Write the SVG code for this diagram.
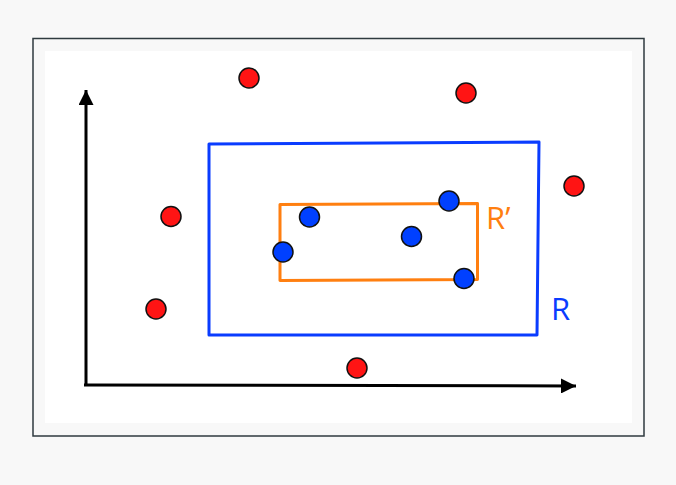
<svg xmlns="http://www.w3.org/2000/svg" width="676" height="485" viewBox="0 0 676 485">
  <defs>
    <marker id="arrow" viewBox="0 0 10 10" refX="10" refY="5" markerWidth="5" markerHeight="5" markerUnits="strokeWidth" orient="auto">
      <path d="M0,0 L10,5 L0,10 Z" fill="#000"/>
    </marker>
    <style>
      .red { fill: #ff1414; stroke: #111; stroke-width: 1.5; }
      .blue { fill: #0040ff; stroke: #111; stroke-width: 1.5; }
      .axis { fill: none; stroke: #000; stroke-width: 3; }
      .lbl { font-family: "Open Sans", "Liberation Sans", sans-serif; font-size: 31px; }
    </style>
  </defs>
  <rect x="0" y="0" width="676" height="485" fill="#f8f8f8"/>
  <rect x="33" y="38.5" width="611" height="397.5" fill="#f8f8f8" stroke="#2f3a3f" stroke-width="1.5"/>
  <rect x="45" y="51" width="587" height="372" fill="#ffffff"/>

  <g id="connectors">
    <path class="axis" d="M86,385 L86,90" marker-end="url(#arrow)"/>
    <path class="axis" d="M84,385 L576,386" marker-end="url(#arrow)"/>
  </g>

  <g id="rect-R">
    <path d="M209,144 L539,142 L537,335 L209,335 Z" fill="none" stroke="#0a3cff" stroke-width="3" stroke-linejoin="round"/>
    <text class="lbl" x="551" y="320" fill="#0a3cff">R</text>
  </g>

  <g id="rect-Rprime">
    <path d="M280,204.5 L477.5,203.5 L477.5,279.5 L280,280.5 Z" fill="none" stroke="#ff7f10" stroke-width="3" stroke-linejoin="round"/>
    <text class="lbl" x="486" y="229" fill="#ff7f10">R’</text>
  </g>

  <g id="red-points">
    <circle class="red" cx="249" cy="78" r="10"/>
    <circle class="red" cx="466" cy="93" r="10"/>
    <circle class="red" cx="574" cy="186" r="10"/>
    <circle class="red" cx="171" cy="216.5" r="10"/>
    <circle class="red" cx="156" cy="309" r="10"/>
    <circle class="red" cx="357" cy="368" r="10"/>
  </g>

  <g id="blue-points">
    <circle class="blue" cx="309.5" cy="217" r="10"/>
    <circle class="blue" cx="449" cy="201" r="10"/>
    <circle class="blue" cx="283" cy="252" r="10"/>
    <circle class="blue" cx="411.5" cy="236.5" r="10"/>
    <circle class="blue" cx="464" cy="278.5" r="10"/>
  </g>
</svg>
